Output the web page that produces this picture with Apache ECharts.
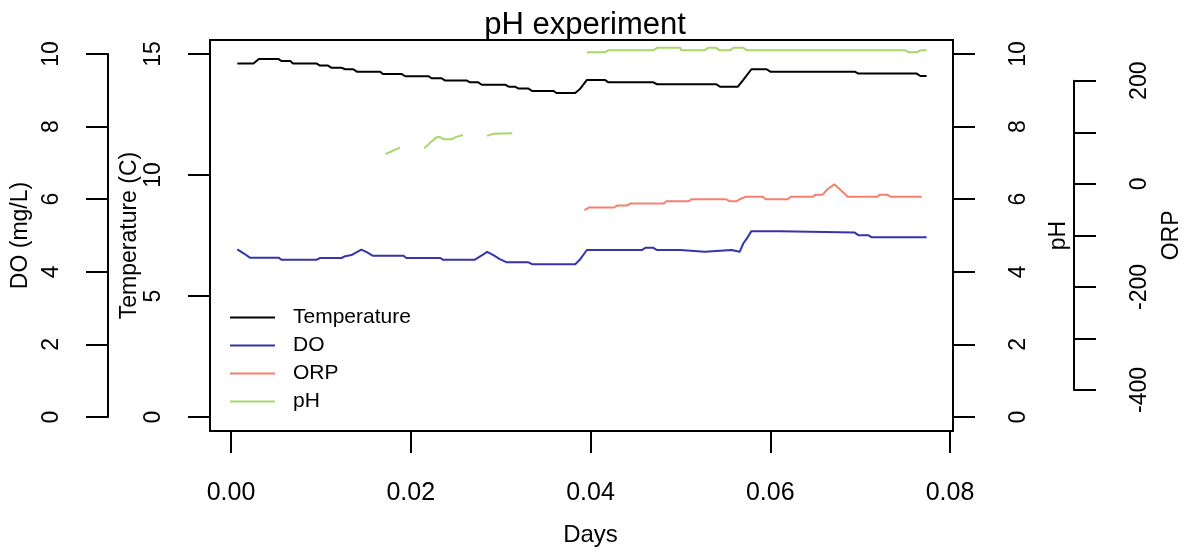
<!DOCTYPE html>
<html>
<head>
<meta charset="utf-8">
<script src="https://cdn.jsdelivr.net/npm/echarts@6/dist/echarts.min.js"></script>
<style>
html,body{margin:0;padding:0;background:#fff;}
#chart{width:1191px;height:558px;}
</style>
</head>
<body>
<div id="chart"></div>
<script>
// ---- data ----
const tempDays = [0.0007,0.0025,0.0031,0.0053,0.0056,0.0066,0.0069,0.0095,0.0099,0.0108,0.0112,0.0123,0.0127,0.0136,0.0140,0.0166,0.0169,0.0190,0.0194,0.0220,0.0223,0.0234,0.0238,0.0262,0.0266,0.0275,0.0279,0.0305,0.0309,0.0316,0.0320,0.0331,0.0335,0.0359,0.0362,0.0383,0.0388,0.0396,0.0416,0.0420,0.0470,0.0474,0.0540,0.0544,0.0564,0.0570,0.0579,0.0596,0.0600,0.0694,0.0698,0.0763,0.0767,0.0774];
const tempVals = [14.61,14.61,14.79,14.79,14.71,14.71,14.61,14.61,14.52,14.52,14.43,14.43,14.37,14.37,14.27,14.27,14.17,14.17,14.08,14.08,14.00,14.00,13.91,13.91,13.83,13.83,13.73,13.73,13.65,13.65,13.57,13.57,13.47,13.47,13.39,13.39,13.54,13.93,13.93,13.83,13.83,13.75,13.75,13.65,13.65,13.93,14.37,14.37,14.27,14.27,14.19,14.19,14.09,14.09];

const doDays = [0.0007,0.0014,0.0021,0.0053,0.0056,0.0095,0.0099,0.0123,0.0127,0.0134,0.0145,0.0151,0.0158,0.0192,0.0195,0.0233,0.0236,0.0271,0.0279,0.0285,0.0292,0.0299,0.0307,0.0331,0.0335,0.0383,0.0388,0.0396,0.0457,0.0461,0.0470,0.0474,0.0500,0.0501,0.0527,0.0529,0.0557,0.0559,0.0566,0.0570,0.0574,0.0579,0.0611,0.0613,0.0694,0.0698,0.0709,0.0713,0.0774];
const doVals = [4.62,4.51,4.39,4.39,4.33,4.33,4.38,4.38,4.43,4.46,4.61,4.54,4.44,4.44,4.38,4.38,4.33,4.33,4.45,4.55,4.46,4.35,4.26,4.26,4.21,4.21,4.33,4.60,4.60,4.66,4.66,4.60,4.60,4.55,4.55,4.60,4.60,4.55,4.55,4.78,4.92,5.12,5.12,5.08,5.08,5.01,5.01,4.95,4.95];

const orpDays = [0.0396,0.0401,0.0429,0.0433,0.0444,0.0448,0.0485,0.0488,0.0513,0.0516,0.0555,0.0559,0.0566,0.0570,0.0577,0.0596,0.0599,0.0624,0.0627,0.0652,0.0655,0.0663,0.0668,0.0676,0.0683,0.0691,0.0724,0.0727,0.0735,0.0739,0.0774];
const orpVals = [-51,-46,-46,-42,-42,-38,-38,-34,-34,-30,-30,-34,-34,-30,-25,-25,-30,-30,-25,-25,-21,-21,-11,-1,-12,-25,-25,-21,-21,-25,-25];

const phDays = [0.0172,0.0177,0.0182,0.0188,0.0200,0.0215,0.0221,0.0229,0.0232,0.0237,0.0245,0.0250,0.0258,0.0270,0.0285,0.0292,0.0313,0.0350,0.0396,0.0416,0.0420,0.0470,0.0474,0.0500,0.0501,0.0527,0.0531,0.0540,0.0544,0.0555,0.0559,0.0570,0.0574,0.0750,0.0754,0.0763,0.0767,0.0774];
const phVals = [7.24,7.30,7.36,7.42,null,7.40,7.54,7.71,7.72,7.65,7.65,7.71,7.77,null,7.75,7.80,7.82,null,10.05,10.05,10.10,10.10,10.17,10.17,10.10,10.10,10.17,10.17,10.10,10.10,10.17,10.17,10.10,10.10,10.05,10.05,10.10,10.10];

const seriesNames = ['Temperature','DO','ORP','pH'];
const seriesColors = ['#000000','#3434ad','#f5806f','#a8d86c'];
const xTicks = {min:0, max:0.08, step:0.02};
const tempTicks = {min:0, max:15, step:5};
const doTicks = {min:0, max:10, step:2};
const phTicks = {min:0, max:10, step:2};
const orpTicks = {min:-400, max:200, step:100};

// ---- chart ----
const FONT = 'Liberation Sans';
const zip = (xs, ys) => xs.map((x, i) => [x, ys[i] === null ? '-' : ys[i]]);
const axLine = {show:true, onZero:false, lineStyle:{color:'#000', width:2}};
const axTick = {show:true, length:22, lineStyle:{color:'#000', width:2}};

function yAx(o){
  return Object.assign({
    type:'value', splitLine:{show:false}, axisLine:axLine, axisTick:axTick,
    nameLocation:'middle', nameRotate:90, nameMoveOverlap:false,
    nameTextStyle:{fontFamily:FONT, fontSize:23, color:'#000'}
  }, o);
}
const lbl = (m, extra) => Object.assign({rotate:90, margin:m, fontFamily:FONT, fontSize:23, color:'#000'}, extra || {});

const chart = echarts.init(document.getElementById('chart'), null, {renderer:'canvas'});
chart.setOption({
  animation:false,
  backgroundColor:'#ffffff',
  title:{text:'pH experiment', left:580, top:5, textAlign:'center',
    textStyle:{fontFamily:FONT, fontSize:31, fontWeight:'normal', color:'#000'}},
  legend:{orient:'vertical', left:230, top:307, padding:0, itemWidth:45, itemHeight:2, itemGap:7,
    icon:'rect', selectedMode:false, data:seriesNames,
    textStyle:{fontFamily:FONT, fontSize:21, color:'#000', padding:[0,0,0,13]}},
  grid:[
    {left:210, top:40, width:743, height:391, show:true, borderColor:'#000', borderWidth:2, backgroundColor:'transparent'},
    {left:231, top:54, width:719, height:363},
    {left:231, top:80.7, width:719, height:309.3}
  ],
  xAxis:[
    {gridIndex:0, type:'value', min:0, max:1, show:false},
    {gridIndex:1, type:'value', min:xTicks.min, max:xTicks.max, interval:xTicks.step, offset:14,
      splitLine:{show:false}, axisLine:axLine, axisTick:axTick,
      axisLabel:{margin:50, fontFamily:FONT, fontSize:25, color:'#000', formatter:v => v.toFixed(2)},
      name:'Days', nameLocation:'middle', nameGap:92, nameMoveOverlap:false,
      nameTextStyle:{fontFamily:FONT, fontSize:24, color:'#000'}},
    {gridIndex:2, type:'value', min:xTicks.min, max:xTicks.max, show:false}
  ],
  yAxis:[
    {gridIndex:0, type:'value', min:0, max:1, show:false},
    yAx({gridIndex:1, position:'left', offset:21, min:tempTicks.min, max:tempTicks.max, interval:tempTicks.step,
      axisLabel:lbl(45), name:'Temperature (C)', nameGap:69}),
    yAx({gridIndex:1, position:'left', offset:123, min:doTicks.min, max:doTicks.max, interval:doTicks.step,
      axisLabel:lbl(45), name:'DO (mg/L)', nameGap:76}),
    yAx({gridIndex:1, position:'right', offset:3, min:phTicks.min, max:phTicks.max, interval:phTicks.step,
      axisLabel:lbl(54), name:'pH', nameGap:94}),
    yAx({gridIndex:2, position:'right', offset:129, min:orpTicks.min, max:orpTicks.max, interval:orpTicks.step,
      axisLabel:lbl(54, {formatter:v => (v % 200 === 0 ? String(v) : '')}), name:'ORP', nameGap:86})
  ],
  series:[
    {name:seriesNames[0], type:'line', xAxisIndex:1, yAxisIndex:1, data:zip(tempDays, tempVals),
      symbol:'none', clip:false, color:seriesColors[0], lineStyle:{width:2, color:seriesColors[0]}},
    {name:seriesNames[1], type:'line', xAxisIndex:1, yAxisIndex:2, data:zip(doDays, doVals),
      symbol:'none', clip:false, color:seriesColors[1], lineStyle:{width:2, color:seriesColors[1]}},
    {name:seriesNames[2], type:'line', xAxisIndex:2, yAxisIndex:4, data:zip(orpDays, orpVals),
      symbol:'none', clip:false, color:seriesColors[2], lineStyle:{width:2, color:seriesColors[2]}},
    {name:seriesNames[3], type:'line', xAxisIndex:1, yAxisIndex:3, data:zip(phDays, phVals),
      symbol:'none', clip:false, connectNulls:false, color:seriesColors[3], lineStyle:{width:2, color:seriesColors[3]}}
  ]
});
</script>
</body>
</html>
